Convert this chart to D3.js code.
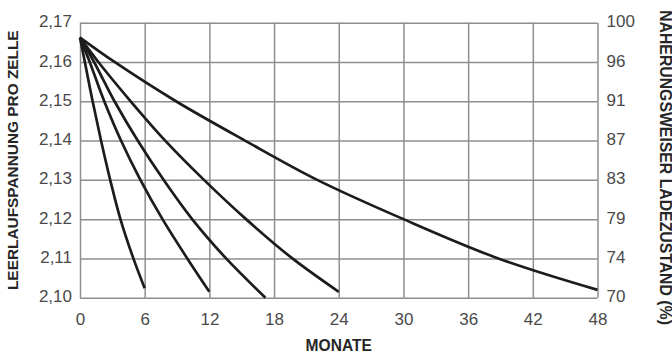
<!DOCTYPE html>
<html>
<head>
<meta charset="utf-8">
<script src="https://cdn.jsdelivr.net/npm/d3@7"></script>
<style>
  html, body { margin: 0; padding: 0; background: #fff; }
  svg { display: block; }
</style>
</head>
<body>
<svg id="chart" width="672" height="352"></svg>
<script>
// ---- data ----
const monthTicks = [0, 6, 12, 18, 24, 30, 36, 42, 48];
const voltTicks = [2.10, 2.11, 2.12, 2.13, 2.14, 2.15, 2.16, 2.17];
const voltLabels = ["2,10", "2,11", "2,12", "2,13", "2,14", "2,15", "2,16", "2,17"];
const socLabels = ["70", "74", "79", "83", "87", "91", "96", "100"];

const curve6Months  = [0, 0.45, 1.17, 1.95, 2.8, 3.75, 4.95, 6];
const curve6Volts   = [2.1662, 2.16, 2.15, 2.14, 2.13, 2.12, 2.11, 2.1024];
const curve12Months = [0, 0.9, 2.25, 3.8, 5.6, 7.65, 9.95, 12];
const curve12Volts  = [2.1662, 2.16, 2.15, 2.14, 2.13, 2.12, 2.11, 2.1015];
const curve17Months = [0, 1.3, 3.2, 5.35, 7.75, 10.4, 13.55, 17.2];
const curve17Volts  = [2.1662, 2.16, 2.15, 2.14, 2.13, 2.12, 2.11, 2.1000];
const curve24Months = [0, 1.7, 4.7, 7.9, 11.5, 15.4, 19.7, 24];
const curve24Volts  = [2.1662, 2.16, 2.15, 2.14, 2.13, 2.12, 2.11, 2.1015];
const curve48Months = [0, 3.2, 8.9, 15.3, 22.0, 30.0, 38.8, 48];
const curve48Volts  = [2.1662, 2.16, 2.15, 2.14, 2.13, 2.12, 2.11, 2.1020];

const xTitle = "MONATE";
const yTitleLeft = "LEERLAUFSPANNUNG PRO ZELLE";
const yTitleRight = "NÄHERUNGSWEISER LADEZUSTAND (%)";

// ---- layout ----
const svg = d3.select("#chart");
const L = 80, R = 597.5, T = 22.7, B = 297.7;
const x = d3.scaleLinear().domain([0, 48]).range([L, R]);
const y = d3.scaleLinear().domain([2.10, 2.17]).range([B, T]);

const gridColor = "#8e8e8e";
const textColor = "#4a4a4a";
const font = "'Liberation Sans', Arial, Helvetica, sans-serif";

// grid (vertical)
svg.append("g")
  .attr("transform", `translate(0,${B})`)
  .call(d3.axisBottom(x).tickValues(monthTicks).tickSize(-(B - T)).tickFormat(""))
  .call(g => g.select(".domain").remove())
  .call(g => g.selectAll("line").attr("stroke", gridColor).attr("stroke-width", 1.5));

// grid (horizontal)
svg.append("g")
  .attr("transform", `translate(${L},0)`)
  .call(d3.axisLeft(y).tickValues(voltTicks).tickSize(-(R - L)).tickFormat(""))
  .call(g => g.select(".domain").remove())
  .call(g => g.selectAll("line").attr("stroke", gridColor).attr("stroke-width", 1.5));

// left axis labels
svg.append("g")
  .attr("transform", `translate(${L},0)`)
  .call(d3.axisLeft(y).tickValues(voltTicks).tickSize(0).tickPadding(8)
        .tickFormat((d, i) => voltLabels[i]))
  .call(g => g.select(".domain").remove())
  .call(g => g.selectAll("text").attr("font-family", font).attr("font-size", 17)
        .attr("fill", textColor).attr("dy", "0.24em"));

// right axis labels
svg.append("g")
  .attr("transform", `translate(${R},0)`)
  .call(d3.axisRight(y).tickValues(voltTicks).tickSize(0).tickPadding(9)
        .tickFormat((d, i) => socLabels[i]))
  .call(g => g.select(".domain").remove())
  .call(g => g.selectAll("text").attr("font-family", font).attr("font-size", 17)
        .attr("fill", textColor).attr("dy", "0.24em"));

// bottom axis labels
svg.append("g")
  .attr("transform", `translate(0,${B})`)
  .call(d3.axisBottom(x).tickValues(monthTicks).tickSize(0).tickPadding(15.7)
        .tickFormat(d => String(d)))
  .call(g => g.select(".domain").remove())
  .call(g => g.selectAll("text").attr("font-family", font).attr("font-size", 17)
        .attr("fill", textColor));

// curves
const series = [
  [curve6Months, curve6Volts],
  [curve12Months, curve12Volts],
  [curve17Months, curve17Volts],
  [curve24Months, curve24Volts],
  [curve48Months, curve48Volts]
];
const line = d3.line()
  .x(d => x(d[0]))
  .y(d => y(d[1]))
  .curve(d3.curveCatmullRom.alpha(0.5));

svg.append("g").selectAll("path")
  .data(series.map(([m, v]) => m.map((mm, i) => [mm, v[i]])))
  .join("path")
  .attr("d", line)
  .attr("fill", "none")
  .attr("stroke", "#1c1c1c")
  .attr("stroke-width", 2.7)
  .attr("stroke-linejoin", "round");

// titles
svg.append("text")
  .attr("x", (L + R) / 2).attr("y", 350.5)
  .attr("text-anchor", "middle")
  .attr("font-family", font).attr("font-weight", "bold").attr("font-size", 15.6)
  .attr("fill", "#262626")
  .text(xTitle);

svg.append("text")
  .attr("transform", `translate(18.3,${(T + B) / 2}) rotate(-90)`)
  .attr("text-anchor", "middle")
  .attr("font-family", font).attr("font-weight", "bold").attr("font-size", 15.4)
  .attr("fill", "#262626")
  .text(yTitleLeft);

svg.append("text")
  .attr("transform", `translate(659.5,167.5) rotate(90)`)
  .attr("text-anchor", "middle")
  .attr("font-family", font).attr("font-weight", "bold").attr("font-size", 15.8)
  .attr("fill", "#262626")
  .text(yTitleRight);
</script>
</body>
</html>
